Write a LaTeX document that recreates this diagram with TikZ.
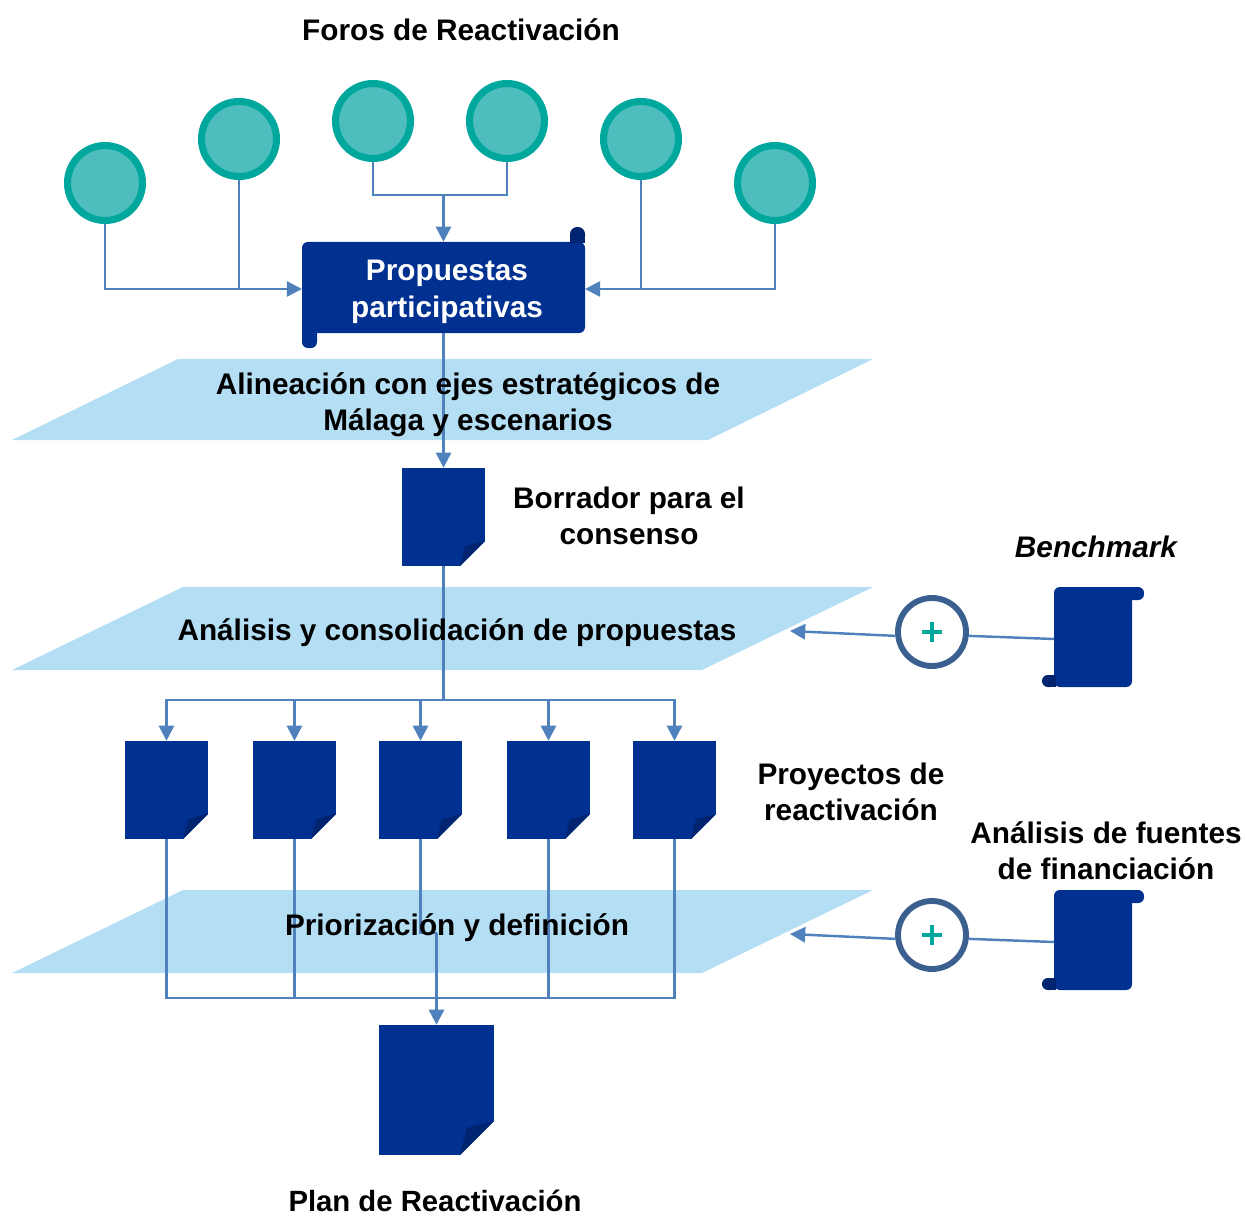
\documentclass[tikz,border=0pt]{standalone}
\usepackage{fontspec}
\setmainfont{Liberation Sans}
\usetikzlibrary{arrows.meta}
\usetikzlibrary{calc}

\definecolor{navy}{HTML}{003090}
\definecolor{navyfold}{HTML}{002470}
\definecolor{wire}{HTML}{4F81BD}
\definecolor{skyband}{HTML}{B4DEF4}
\definecolor{tealfill}{HTML}{4DBDBD}
\definecolor{tealline}{HTML}{00A79D}
\definecolor{ringblue}{HTML}{3B5F8F}

\begin{document}
\begin{tikzpicture}[
	x=0.03cm, y=-0.03cm,
	link/.style={wire, line width=2.1pt},
	arrow/.style={link, -{Triangle[length=13pt,width=13pt]}},
	forum/.style={circle, draw=tealline, fill=tealfill, line width=6pt, inner sep=0pt, minimum size=2.25cm},
	sheet/.style n args={3}{rectangle, fill=navy, inner sep=0pt, minimum width=#1*0.03cm, minimum height=#2*0.03cm,
		path picture={
			\fill[white] ($(path picture bounding box.south east)+(-#3,0)$) -- ++(#3,#3*-1) -- (path picture bounding box.south east) -- cycle;
			\fill[navyfold] ($(path picture bounding box.south east)+(-#3,0)$) -- ++(#3,#3*-1) -- ++(#3*-0.8,#3*0.2) -- cycle;
		}},
	scroll/.style n args={2}{rectangle, rounded corners=5pt, fill=navy, inner sep=0pt, minimum width=#1*0.03cm, minimum height=#2*0.03cm},
	adder/.style={circle, draw=ringblue, fill=white, line width=5pt, inner sep=0pt, minimum size=2.04cm,
		path picture={
			\draw[tealline, line width=2.6pt] ($(path picture bounding box.center)+(-10,0)$) -- ($(path picture bounding box.center)+(10,0)$);
			\draw[tealline, line width=2.6pt] ($(path picture bounding box.center)+(0,-10)$) -- ($(path picture bounding box.center)+(0,10)$);
		}},
	caption/.style={font=\bfseries\fontsize{25.4}{31}\selectfont, align=center, text=black, inner sep=0pt},
]

\useasboundingbox (0,0) rectangle (1245,1216);

% Bands
\fill[skyband] (178,359) -- (873,359) -- (708,440) -- (12,440) -- cycle;
\fill[skyband] (183,587) -- (873,587) -- (702,670) -- (12,670) -- cycle;
\fill[skyband] (183,890) -- (873,890) -- (702,973) -- (12,973) -- cycle;

% Forums
\node[forum](f1) at (105,183) {};
\node[forum](f2) at (239,139) {};
\node[forum](f3) at (373,121) {};
\node[forum](f4) at (507,121) {};
\node[forum](f5) at (641,139) {};
\node[forum](f6) at (775,183) {};

% Scrolls
\fill[navy,rounded corners=5pt] (302,320) rectangle (317,348);
\node[scroll={283}{91}](prop) at (443.5,287.5) {};
\fill[navyfold,rounded corners=6pt] (570,227) rectangle (585,243);
\fill[navyfold] (570,236) rectangle (585,243);

\fill[navy,rounded corners=5pt] (1110,587) rectangle (1144,600);
\node[scroll={78}{100}](bench) at (1093,637) {};
\fill[navyfold,rounded corners=5pt] (1042,675) rectangle (1056,687);
\fill[navyfold] (1050,675) rectangle (1056,687);

\fill[navy,rounded corners=5pt] (1110,890) rectangle (1144,903);
\node[scroll={78}{100}](fund) at (1093,940) {};
\fill[navyfold,rounded corners=5pt] (1042,978) rectangle (1056,990);
\fill[navyfold] (1050,978) rectangle (1056,990);

% Sheets
\node[sheet={83}{98}{25}](draft) at (443.5,517) {};
\node[sheet={83}{98}{25}](p1) at (166.5,790) {};
\node[sheet={83}{98}{25}](p2) at (294.5,790) {};
\node[sheet={83}{98}{25}](p3) at (420.5,790) {};
\node[sheet={83}{98}{25}](p4) at (548.5,790) {};
\node[sheet={83}{98}{25}](p5) at (674.5,790) {};
\node[sheet={115}{130}{34}](plan) at (436.5,1090) {};

% Adders
\node[adder](a1) at (932,632) {};
\node[adder](a2) at (932,935) {};

% Forums to proposals
\coordinate (j1) at (443.5,195);
\coordinate (pw) at (302,289);
\coordinate (pe) at (585,289);
\draw[link] (f3.south) |- (j1);
\draw[link] (f4.south) |- (j1);
\draw[arrow] (j1) -- (prop.north);
\draw[arrow] (f1.south) |- (pw);
\draw[link] (f2.south) -- (f2.south|-pw);
\draw[arrow] (f6.south) |- (pe);
\draw[link] (f5.south) -- (f5.south|-pe);

% Spine
\draw[arrow] (prop.south) -- (draft.north);
\coordinate (j2) at (443.5,700);
\draw[wire, line width=2.8pt] (draft.south) -- (j2);
\draw[arrow] (j2) -| (p1.north);
\draw[arrow] (j2) -| (p2.north);
\draw[arrow] (j2) -| (p3.north);
\draw[arrow] (j2) -| (p4.north);
\draw[arrow] (j2) -| (p5.north);

% Projects to plan
\coordinate (j3) at (436.5,998);
\coordinate (j4) at (436.5,933);
\draw[link] (p1.south) |- (j3);
\draw[link] (p2.south) |- (j3);
\draw[link] (p4.south) |- (j3);
\draw[link] (p5.south) |- (j3);
\draw[link] (p3.south) |- (j4);
\draw[arrow] (j4) -- (plan.north);

% Inputs
\coordinate (t1) at (790,631);
\coordinate (t2) at (790,934);
\coordinate (b1) at (1054,639);
\coordinate (b2) at (1054,942);
\draw[arrow] (a1.186) -- (t1);
\draw[link] (a1.-6) -- (b1);
\draw[arrow] (a2.186) -- (t2);
\draw[link] (a2.-6) -- (b2);

% Texts
\node[caption](tforos) at (461,30) {Foros de Reactivación};
\node[caption,text=white](tprop) at (447,292) {Propuestas\\participativas};
\node[caption](talign) at (468,405) {Alineación con ejes estratégicos de\\Málaga y escenarios};
\node[caption](tdraft) at (629,516) {Borrador para el\\consenso};
\node[caption,font=\bfseries\itshape\fontsize{25.4}{31}\selectfont](tbench) at (1096,547) {Benchmark};
\node[caption](tanal) at (457,633) {Análisis y consolidación de propuestas};
\node[caption](tproj) at (851,792) {Proyectos de\\reactivación};
\node[caption](tfund) at (1106,851) {Análisis de fuentes\\de financiación};
\node[caption](tprio) at (457,928) {Priorización y definición};
\node[caption,font=\bfseries\fontsize{25}{31}\selectfont](tplan) at (435,1201) {Plan de Reactivación};
\end{tikzpicture}
\end{document}
